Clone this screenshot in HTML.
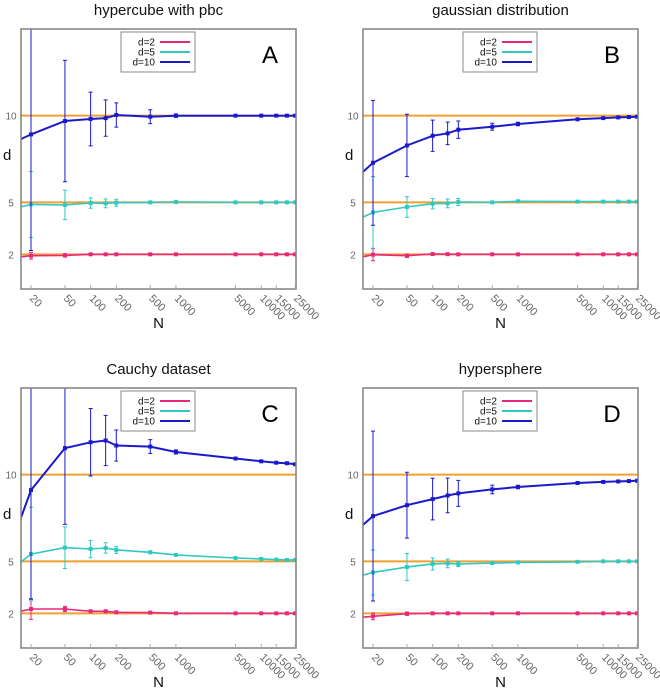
<!DOCTYPE html>
<html><head><meta charset="utf-8"><style>
body{margin:0;background:#fff;font-family:"Liberation Sans",sans-serif}
svg text{font-family:"Liberation Sans",sans-serif}
</style></head><body>
<svg id="chart" width="660" height="689" viewBox="0 0 660 689" xmlns="http://www.w3.org/2000/svg"></svg>
<script>
const nValues=[15,20,50,100,150,200,500,1000,5000,10000,15000,20000,25000];
const xTickLabels=["20","50","100","200","500","1000","5000","10000","15000","25000"];
const xTickValues=[20,50,100,200,500,1000,5000,10000,15000,25000];
const yTickValues=[2,5,10];
const refValues=[2,5,10];
const panelTitles=["hypercube with pbc","gaussian distribution","Cauchy dataset","hypersphere"];
const panelLetters=["A","B","C","D"];
// Panel A
const aD10=[8.63,8.92,9.69,9.81,9.86,10.04,9.94,10,10,10,10,10,10];
const aD10err=[0,6.7,3.5,1.55,1.05,0.7,0.4,0.1,0.05,0.05,0.05,0.05,0.05];
const aD5=[4.73,4.88,4.85,4.96,4.94,4.98,5,5.02,5,5,5,5,5];
const aD5err=[0,1.9,0.85,0.3,0.25,0.2,0.05,0.05,0.03,0.03,0.03,0.03,0.03];
const aD2=[1.85,1.92,1.94,2,2,2,2,2,2,2,2,2,2];
const aD2err=[0,0.2,0.1,0.05,0.03,0.03,0.03,0.03,0.03,0.03,0.03,0.03,0.03];
// Panel B
const bD10=[6.72,7.28,8.28,8.84,8.98,9.19,9.36,9.52,9.79,9.86,9.9,9.92,9.94];
const bD10err=[0,3.6,1.8,0.9,0.65,0.5,0.2,0.1,0.05,0.05,0.05,0.05,0.05];
const bD5=[4.13,4.42,4.73,4.92,4.94,5.02,5,5.06,5.04,5.04,5.04,5.04,5.04];
const bD5err=[0,2.07,0.6,0.3,0.25,0.2,0.05,0.05,0.03,0.03,0.03,0.03,0.03];
const bD2=[1.85,1.98,1.92,2.02,2.01,2,2,2,2,2,2,2,2];
const bD2err=[0,0.35,0.1,0.05,0.03,0.03,0.03,0.03,0.03,0.03,0.03,0.03,0.03];
// Panel C
const cD10=[7.41,9.11,11.53,11.87,11.97,11.68,11.62,11.31,10.93,10.77,10.69,10.66,10.6];
const cD10err=[0,6.3,4.4,1.95,1.45,0.9,0.4,0.12,0.05,0.05,0.05,0.05,0.05];
const cD5=[4.94,5.42,5.79,5.71,5.77,5.66,5.52,5.37,5.19,5.14,5.1,5.08,5.08];
const cD5err=[0,2.7,1.2,0.5,0.3,0.2,0.08,0.05,0.03,0.03,0.03,0.03,0.03];
const cD2=[2.12,2.25,2.25,2.12,2.12,2.06,2.04,2,2,2,2,2,2];
const cD2err=[0,0.6,0.15,0.06,0.04,0.03,0.03,0.03,0.03,0.03,0.03,0.03,0.03];
// Panel D
const dD10=[7.07,7.61,8.24,8.59,8.8,8.92,9.15,9.29,9.52,9.58,9.61,9.63,9.65];
const dD10err=[0,4.9,1.9,1.2,1.0,0.75,0.25,0.1,0.05,0.05,0.05,0.05,0.05];
const dD5=[4.19,4.36,4.67,4.85,4.88,4.85,4.9,4.94,4.97,5,5,5,5];
const dD5err=[0,1.3,0.78,0.35,0.25,0.15,0.05,0.04,0.03,0.03,0.03,0.03,0.03];
const dD2=[1.77,1.83,1.98,2,2,2,2,2,2,2,2,2,2];
const dD2err=[0,0.2,0.1,0.05,0.03,0.03,0.03,0.03,0.03,0.03,0.03,0.03,0.03];

const panelSeries=[[aD2,aD5,aD10],[bD2,bD5,bD10],[cD2,cD5,cD10],[dD2,dD5,dD10]];
const panelErrors=[[aD2err,aD5err,aD10err],[bD2err,bD5err,bD10err],[cD2err,cD5err,cD10err],[dD2err,dD5err,dD10err]];
const seriesNames=["d=2","d=5","d=10"];
const seriesColors=["#e8287a","#30c8c0","#1a1acc"];

const NS="http://www.w3.org/2000/svg";
const svg=document.getElementById('chart');
function mk(tag,attrs,parent){const e=document.createElementNS(NS,tag);for(const k in attrs)e.setAttribute(k,attrs[k]);(parent||svg).appendChild(e);return e;}

const PW=275,PH=260;
const offsets=[[21,29],[363,29],[21,388],[363,388]];
function xScale(ox,n){return ox+10+(Math.log10(n)-Math.log10(20))*85.3;}
function yScale(oy,d){return oy+PH-d*(PH/15);}

for(let p=0;p<4;p++){
  const [ox,oy]=offsets[p];
  const g=mk('g',{});
  
  
  const t=mk('text',{x:ox+PW/2,y:oy-14,'text-anchor':'middle','font-size':'15',fill:'#111'},g);
  t.textContent=panelTitles[p];
  
  
  const cp='clip'+p;
  const cl=mk('clipPath',{id:cp},g);mk('rect',{x:ox,y:oy,width:PW,height:PH},cl);
  const plot=mk('g',{'clip-path':'url(#'+cp+')'},g);
  refValues.forEach(v=>{
    const l=mk('line',{x1:ox,x2:ox+PW,y1:yScale(oy,v),y2:yScale(oy,v),stroke:'#f0a030','stroke-width':2},plot);
    
    
  });
  for(let s=0;s<3;s++){
    const vals=panelSeries[p][s],errs=panelErrors[p][s],col=seriesColors[s];
    const pts=vals.map((v,i)=>xScale(ox,nValues[i]).toFixed(1)+','+yScale(oy,v).toFixed(1)).join(' ');
    const pl=mk('polyline',{points:pts,fill:'none',stroke:col,'stroke-width':s==2?2:1.6},plot);
    
    
    vals.forEach((v,i)=>{
      if(i===0)return;
      const x=xScale(ox,nValues[i]),e=errs[i];
      const y1=yScale(oy,v+e),y2=yScale(oy,v-e);
      const eb=mk('path',{d:`M${x},${y1}V${y2}M${x-2},${y1}H${x+2}M${x-2},${y2}H${x+2}`,stroke:col,'stroke-width':1,fill:'none'},plot);
      
      
      const m=mk('rect',{x:x-2,y:yScale(oy,v)-2,width:4,height:4,fill:col},plot);
      
      
    });
  }
  const fr=mk('rect',{x:ox,y:oy,width:PW,height:PH,fill:'none',stroke:'#808080','stroke-width':1.5},g);
  
  
  yTickValues.forEach(v=>{
    const tt=mk('text',{x:ox-10,y:yScale(oy,v)+4,'text-anchor':'middle','font-size':'10',fill:'#666'},g);
    tt.textContent=String(v);
    
    
  });
  const yl=mk('text',{x:ox-18,y:oy+131,'font-size':'15',fill:'#111'},g);
  yl.textContent='d';
  
  
  xTickValues.forEach((v,i)=>{
    const x=xScale(ox,v);
    mk('line',{x1:x,x2:x,y1:oy+PH,y2:oy+PH-4,stroke:'#aaa','stroke-width':1},g);
    const tt=mk('text',{x:x-2,y:oy+PH+10,'font-size':'11',fill:'#666',transform:`rotate(45 ${x-2} ${oy+PH+10})`},g);
    tt.textContent=xTickLabels[i];
    
    
  });
  const xl=mk('text',{x:ox+PW/2,y:oy+PH+39,'text-anchor':'middle','font-size':'15',fill:'#111'},g);
  xl.textContent='N';
  
  
  const lg=mk('g',{},g);
  
  
  mk('rect',{x:ox+100,y:oy+3,width:74,height:40,fill:'#fff',stroke:'#888','stroke-width':1},lg);
  for(let s=0;s<3;s++){
    const yy=oy+13+s*10;
    const lt=mk('text',{x:ox+134,y:yy+3.5,'text-anchor':'end','font-size':'10',fill:'#111'},lg);
    lt.textContent=seriesNames[s];
    
    
    mk('line',{x1:ox+139,x2:ox+169,y1:yy,y2:yy,stroke:seriesColors[s],'stroke-width':2},lg);
  }
  const lt=mk('text',{x:ox+249,y:oy+34,'text-anchor':'middle','font-size':'24',fill:'#000'},g);
  lt.textContent=panelLetters[p];
  
  
}
</script>
</body></html>
